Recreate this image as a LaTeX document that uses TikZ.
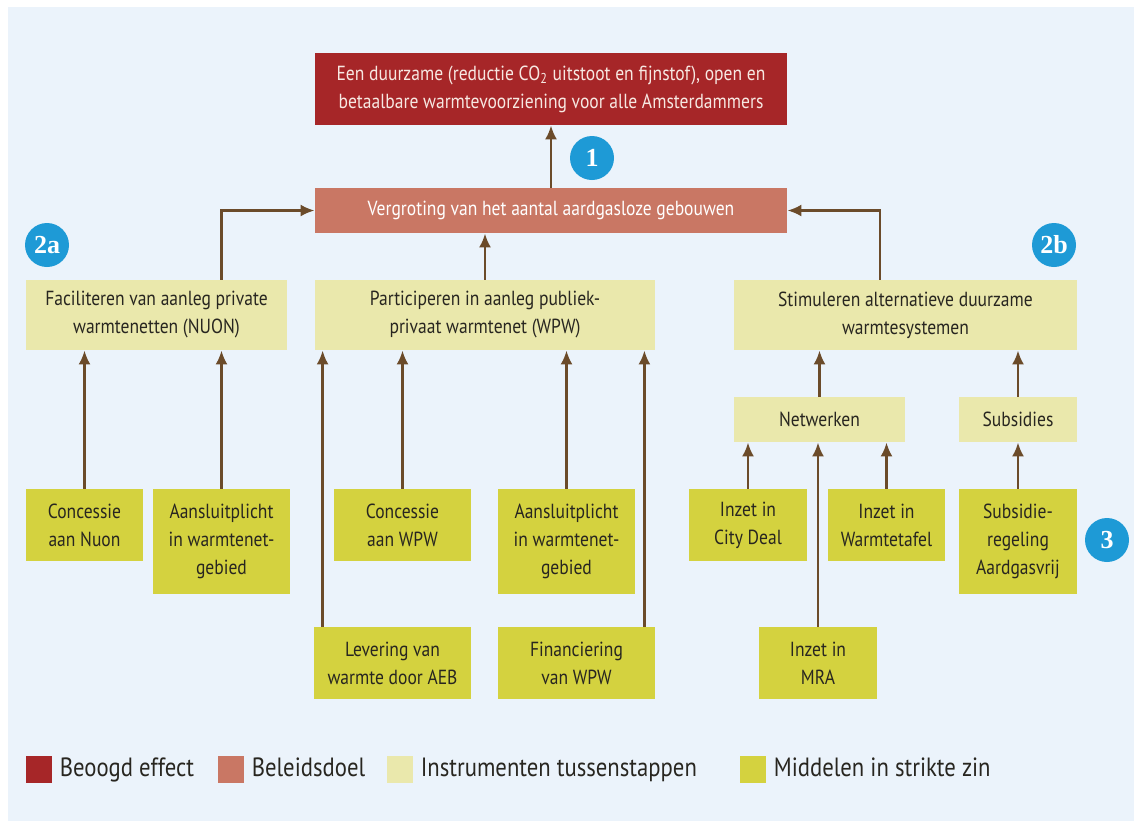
\documentclass[tikz,border=0pt]{standalone}
\usepackage{fontspec}
\setmainfont{PT Sans}[FakeStretch=0.86]
\newfontfamily\numfont{Liberation Serif}
\usepackage{tikz}
\usetikzlibrary{arrows.meta}
\usetikzlibrary{positioning}

\definecolor{achtergrond}{RGB}{235,243,251}
\definecolor{effectrood}{RGB}{166,38,40}
\definecolor{effecttekst}{RGB}{247,232,226}
\definecolor{doelrood}{RGB}{201,119,100}
\definecolor{instrgeel}{RGB}{234,232,172}
\definecolor{middelgeel}{RGB}{212,210,63}
\definecolor{pijlbruin}{RGB}{107,75,42}
\definecolor{nummerblauw}{RGB}{30,154,214}
\definecolor{tekstdonker}{RGB}{40,38,32}

\begin{document}
\begin{tikzpicture}[
  x=0.5pt, y=-0.5pt,
  > = {Latex[length=7pt,width=6pt]},
  box/.style = {inner sep=2pt, align=center, text=tekstdonker, font=\fontsize{10.2}{14}\selectfont},
  effect/.style = {box, fill=effectrood, text=effecttekst},
  doel/.style = {box, fill=doelrood, text=white},
  instr/.style = {box, fill=instrgeel},
  middel/.style = {box, fill=middelgeel},
  nummer/.style = {circle, fill=nummerblauw, text=white, minimum size=22pt, inner sep=0pt, font=\numfont\bfseries\fontsize{13}{13}\selectfont},
  pijl/.style = {->, draw=pijlbruin, line width=1.3pt},
  legbox/.style = {minimum width=13pt, minimum height=13.5pt, inner sep=0pt},
  legtekst/.style = {inner sep=0pt, text height=10pt, text depth=3pt, text=tekstdonker, font=\fontsize{13.2}{13.2}\selectfont}
  ]
	\useasboundingbox (0,0) rectangle (1134,821);
	\fill[white] (0,0) rectangle (1134,821);
	\fill[achtergrond] (8,7) rectangle (1134,821);

	% beoogd effect en beleidsdoel
	\node[effect, minimum width=236pt, minimum height=36pt] (effect) at (551,89)
		{Een duurzame (reductie CO\textsubscript{2} uitstoot en fijnstof), open en\\ betaalbare warmtevoorziening voor alle Amsterdammers};
	\node[doel, minimum width=236pt, minimum height=22.5pt] (doel) at (551,210.5)
		{Vergroting van het aantal aardgasloze gebouwen};

	% instrumenten
	\node[instr, minimum width=130.5pt, minimum height=35pt] (facil) at (156.5,315)
		{Faciliteren van aanleg private\\ warmtenetten (NUON)};
	\node[instr, minimum width=170pt, minimum height=35pt] (partic) at (485,315)
		{Participeren in aanleg publiek-\\ privaat warmtenet (WPW)};
	\node[instr, minimum width=171.5pt, minimum height=35pt] (stimul) at (905.5,315)
		{Stimuleren alternatieve duurzame\\ warmtesystemen};
	\node[instr, minimum width=85.5pt, minimum height=22.5pt] (netw) at (819.5,419.5) {Netwerken};
	\node[instr, minimum width=59pt, minimum height=22.5pt] (subs) at (1018,419.5) {Subsidies};

	% middelen
	\node[middel, minimum width=58.5pt, minimum height=36pt] (concnuon) at (84.5,525) {Concessie\\ aan Nuon};
	\node[middel, minimum width=68.5pt, minimum height=52.5pt] (aansl1) at (221.5,541.5) {Aansluitplicht\\ in warmtenet-\\ gebied};
	\node[middel, minimum width=68.5pt, minimum height=36pt] (concwpw) at (402.5,525) {Concessie\\ aan WPW};
	\node[middel, minimum width=68.5pt, minimum height=52.5pt] (aansl2) at (566.5,541.5) {Aansluitplicht\\ in warmtenet-\\ gebied};
	\node[middel, minimum width=59pt, minimum height=36pt] (citydeal) at (748,525) {Inzet in\\ City Deal};
	\node[middel, minimum width=58.5pt, minimum height=36pt] (tafel) at (886.5,525) {Inzet in\\ Warmtetafel};
	\node[middel, minimum width=59pt, minimum height=52.5pt] (regeling) at (1018,541.5) {Subsidie-\\ regeling\\ Aardgasvrij};
	\node[middel, minimum width=78.5pt, minimum height=36pt] (aeb) at (392.5,663) {Levering van\\ warmte door AEB};
	\node[middel, minimum width=78.5pt, minimum height=36pt] (financ) at (576.5,663) {Financiering\\ van WPW};
	\node[middel, minimum width=59pt, minimum height=36pt] (mra) at (818,663) {Inzet in\\ MRA};

	% nummers
	\node[nummer] (n1) at (592,158) {1};
	\node[nummer] (n2a) at (47,245) {2a};
	\node[nummer] (n2b) at (1054,245) {2b};
	\node[nummer] (n3) at (1107,540) {3};

	% pijlen
	\draw[pijl] (doel) -- (effect);
	\draw[pijl] (aansl1.north |- facil.north) |- (doel.west);
	\draw[pijl] (partic.north) -- (partic.north |- doel.south);
	\draw[pijl] ([xshift=-12.75pt]stimul.north) |- (doel.east);
	\draw[pijl] (netw.north) -- (netw.north |- stimul.south);
	\draw[pijl] (subs) -- (subs |- stimul.south);

	\draw[pijl] (concnuon) -- (concnuon |- facil.south);
	\draw[pijl] (aansl1) -- (aansl1 |- facil.south);
	\draw[pijl] ([xshift=4.5pt]aeb.north west) -- ([xshift=4.5pt]aeb.north west |- partic.south);
	\draw[pijl] (concwpw) -- (concwpw |- partic.south);
	\draw[pijl] (aansl2) -- (aansl2 |- partic.south);
	\draw[pijl] ([xshift=-5.5pt]financ.north east) -- ([xshift=-5.5pt]financ.north east |- partic.south);
	\draw[pijl] (citydeal) -- (citydeal |- netw.south);
	\draw[pijl] (mra) -- (mra |- netw.south);
	\draw[pijl] (tafel) -- (tafel |- netw.south);
	\draw[pijl] (regeling) -- (subs);

	% legenda
	\node[legbox, fill=effectrood] (lg1) at (39,769.5) {};
	\node[legtekst, right=3.5pt of lg1] (lt1) {Beoogd effect};
	\node[legbox, fill=doelrood] (lg2) at (231,769.5) {};
	\node[legtekst, right=3.5pt of lg2] (lt2) {Beleidsdoel};
	\node[legbox, fill=instrgeel] (lg3) at (400,769.5) {};
	\node[legtekst, right=3.5pt of lg3] (lt3) {Instrumenten tussenstappen};
	\node[legbox, fill=middelgeel] (lg4) at (753,769.5) {};
	\node[legtekst, right=3.5pt of lg4] (lt4) {Middelen in strikte zin};

\end{tikzpicture}
\end{document}
